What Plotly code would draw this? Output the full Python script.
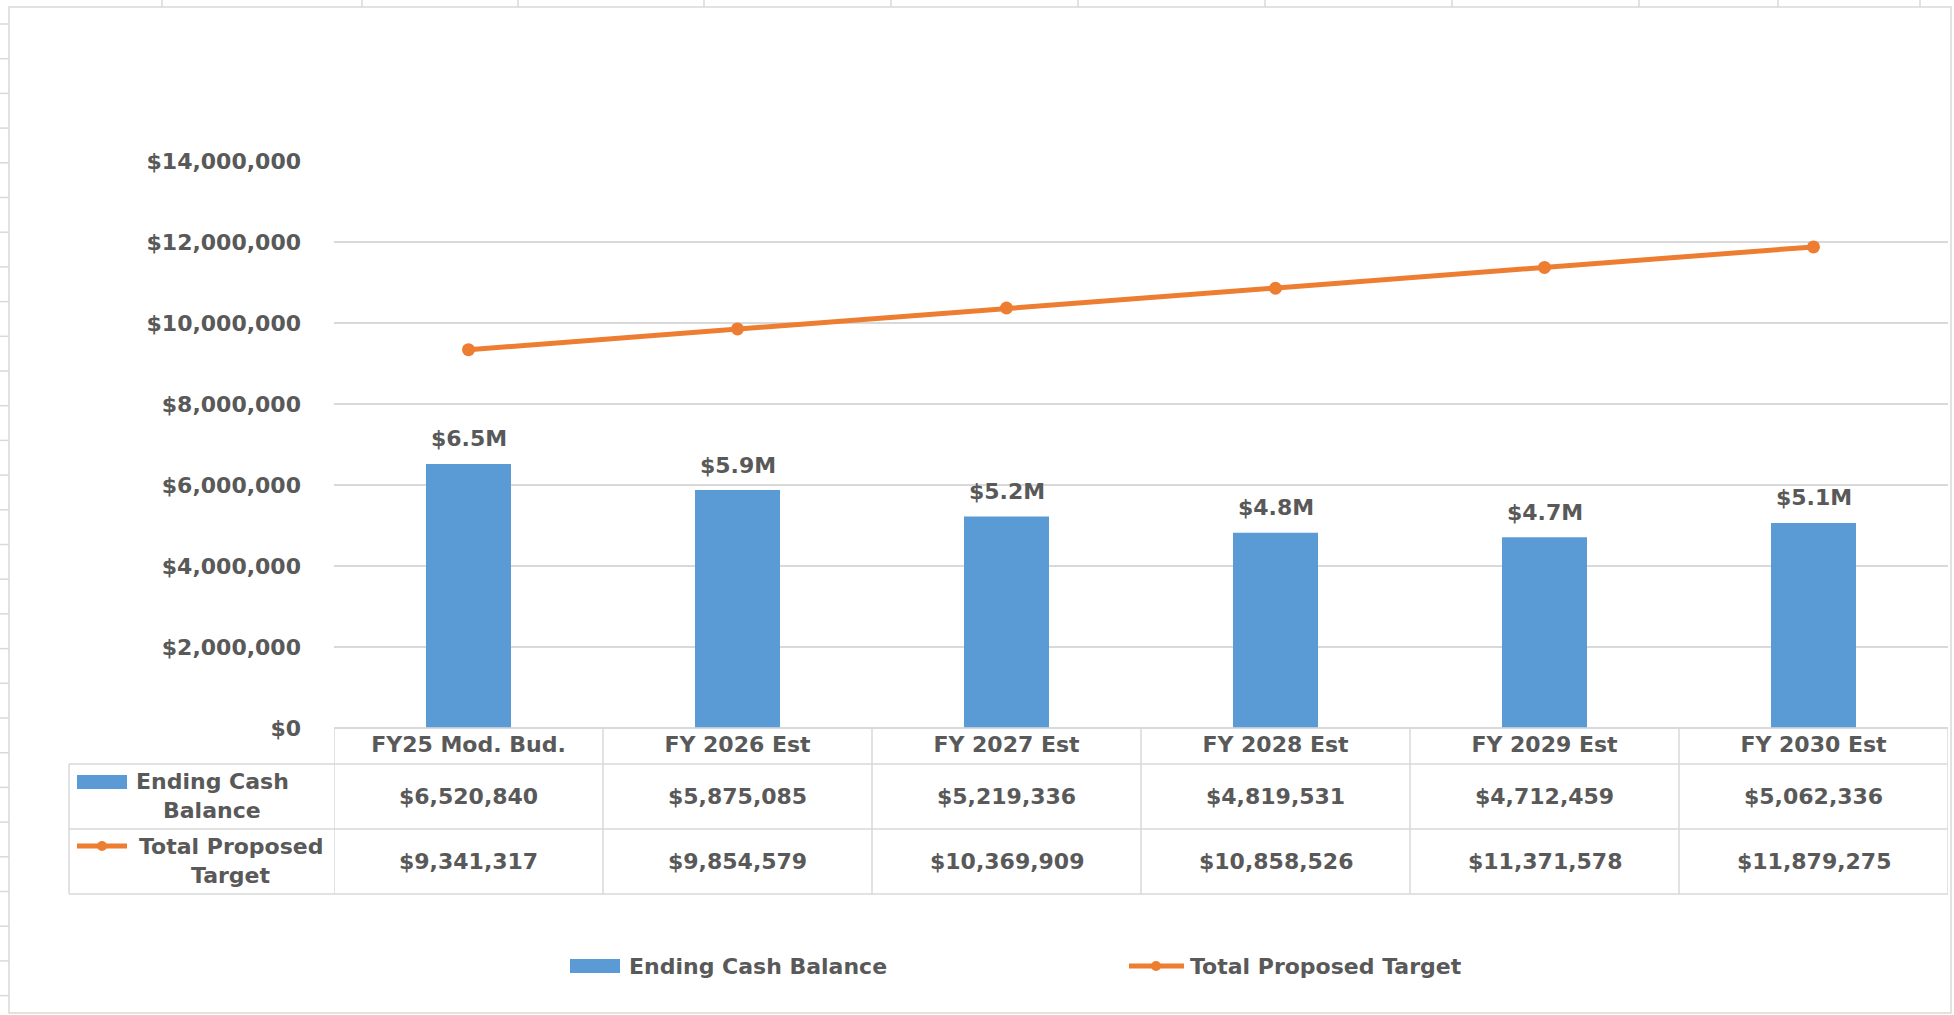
import plotly.graph_objects as go

# ---------------- data ----------------
categories = ["FY25 Mod. Bud.", "FY 2026 Est", "FY 2027 Est", "FY 2028 Est", "FY 2029 Est", "FY 2030 Est"]
ending_cash = [6520840, 5875085, 5219336, 4819531, 4712459, 5062336]
proposed_target = [9341317, 9854579, 10369909, 10858526, 11371578, 11879275]
series_names = ["Ending Cash Balance", "Total Proposed Target"]
table_row_labels = [["Ending Cash", "Balance"], ["Total Proposed", "Target"]]
y_ticks = [0, 2000000, 4000000, 6000000, 8000000, 10000000, 12000000, 14000000]

# ---------------- style ----------------
W, H = 1954, 1015
BLUE = "#5B9BD5"
ORANGE = "#ED7D31"
GRID = "#D9D9D9"
TEXT = "#595959"
FAM = "DejaVu Sans"
FS = 22


def px(x):
    return x / W


def py(y):
    return 1 - y / H


PLOT_L, PLOT_R = 334, 1948
PLOT_T, PLOT_B = 161, 728
ROW1_T, ROW2_T, TABLE_B = 764, 829, 894
LABEL_L = 69

font = dict(family=FAM, size=FS, color=TEXT, weight="bold")

fig = go.Figure()
fig.add_trace(go.Bar(
    x=categories, y=ending_cash, name=series_names[0],
    marker=dict(color=BLUE, line=dict(width=0)),
    showlegend=False, hoverinfo="skip",
))
fig.add_trace(go.Scatter(
    x=categories, y=proposed_target, name=series_names[1],
    mode="lines+markers",
    line=dict(color=ORANGE, width=5),
    marker=dict(color=ORANGE, size=13),
    showlegend=False, hoverinfo="skip", cliponaxis=False,
))

annotations = []
shapes = []


def ann(x, y, text, xref="paper", yref="paper", xanchor="center", **kw):
    d = dict(x=x, y=y, xref=xref, yref=yref, text=text, showarrow=False,
             xanchor=xanchor, yanchor="middle", font=font)
    d.update(kw)
    annotations.append(d)


# data labels above bars
for i, v in enumerate(ending_cash):
    ann(i, v, f"${v / 1e6:.1f}M", xref="x", yref="y", yshift=25)

# ---- data table ----
line_style = dict(color=GRID, width=1.5)
shapes.append(dict(type="line", xref="paper", yref="paper",
                   x0=px(PLOT_L), x1=px(PLOT_R), y0=py(PLOT_B), y1=py(PLOT_B), line=line_style))
for yy in (ROW1_T, ROW2_T, TABLE_B):
    shapes.append(dict(type="line", xref="paper", yref="paper",
                       x0=px(LABEL_L), x1=px(PLOT_R), y0=py(yy), y1=py(yy), line=line_style))
for i in range(len(categories) + 1):
    shapes.append(dict(type="line", xref="x", yref="paper",
                       x0=i - 0.5, x1=i - 0.5, y0=py(PLOT_B), y1=py(TABLE_B), line=line_style))
shapes.append(dict(type="line", xref="paper", yref="paper",
                   x0=px(LABEL_L), x1=px(LABEL_L), y0=py(ROW1_T), y1=py(TABLE_B), line=line_style))

rows = [ending_cash, proposed_target]
row_centers = [(ROW1_T + ROW2_T) / 2, (ROW2_T + TABLE_B) / 2]
for r, vals in enumerate(rows):
    for i, v in enumerate(vals):
        ann(i, py(row_centers[r]), f"${v:,.0f}", xref="x")

label_cx = [212, 231]
for r, lines in enumerate(table_row_labels):
    top = ROW1_T if r == 0 else ROW2_T
    for k, t in enumerate(lines):
        ann(px(label_cx[r]), py(top + 17 + 29 * k), t)
# key row 1: blue box
shapes.append(dict(type="rect", xref="paper", yref="paper",
                   x0=px(77), x1=px(127), y0=py(775), y1=py(789),
                   fillcolor=BLUE, line=dict(width=0)))
# key row 2: orange line + marker
shapes.append(dict(type="line", xref="paper", yref="paper",
                   x0=px(77), x1=px(127), y0=py(846), y1=py(846),
                   line=dict(color=ORANGE, width=5)))
shapes.append(dict(type="circle", xref="paper", yref="paper",
                   x0=px(97), x1=px(107), y0=py(841), y1=py(851),
                   fillcolor=ORANGE, line=dict(width=0)))

# ---- bottom legend ----
LEG_Y = 966
shapes.append(dict(type="rect", xref="paper", yref="paper",
                   x0=px(570), x1=px(620), y0=py(LEG_Y - 7), y1=py(LEG_Y + 7),
                   fillcolor=BLUE, line=dict(width=0)))
ann(px(627), py(LEG_Y), series_names[0], xanchor="left")
shapes.append(dict(type="line", xref="paper", yref="paper",
                   x0=px(1129), x1=px(1184), y0=py(LEG_Y), y1=py(LEG_Y),
                   line=dict(color=ORANGE, width=5)))
shapes.append(dict(type="circle", xref="paper", yref="paper",
                   x0=px(1151), x1=px(1161), y0=py(LEG_Y - 5), y1=py(LEG_Y + 5),
                   fillcolor=ORANGE, line=dict(width=0)))
ann(px(1188), py(LEG_Y), series_names[1], xanchor="left")

# ---- chart border + spreadsheet cell ticks ----
shapes.append(dict(type="rect", xref="paper", yref="paper",
                   x0=px(9), x1=px(1951), y0=py(7), y1=py(1013),
                   line=dict(color=GRID, width=1.5), layer="below"))
for tx in (162, 362, 518, 704, 891, 1078, 1265, 1452, 1639, 1778, 1920):
    shapes.append(dict(type="line", xref="paper", yref="paper",
                       x0=px(tx), x1=px(tx), y0=py(0), y1=py(7),
                       line=dict(color=GRID, width=1.5)))
ty = 24.0
while ty < 1010:
    shapes.append(dict(type="line", xref="paper", yref="paper",
                       x0=px(0), x1=px(9), y0=py(ty), y1=py(ty),
                       line=dict(color=GRID, width=1.5)))
    ty += 34.7

fig.update_layout(
    width=W, height=H,
    margin=dict(l=0, r=0, t=0, b=0, autoexpand=False),
    paper_bgcolor="white", plot_bgcolor="white",
    bargap=0.684,
    font=font,
    annotations=annotations,
    shapes=shapes,
    xaxis=dict(
        type="category", range=[-0.5, len(categories) - 0.5],
        domain=[px(PLOT_L), px(PLOT_R)], automargin=False,
        showgrid=False, showline=False, zeroline=False, ticks="",
        tickfont=font, ticklabelstandoff=1,
    ),
    yaxis=dict(
        range=[0, 14000000], domain=[py(PLOT_B), py(PLOT_T)], automargin=False,
        tickvals=y_ticks, tickformat="$,.0f",
        showgrid=True, gridcolor=GRID, gridwidth=1.5,
        zeroline=True, zerolinecolor=GRID, zerolinewidth=1.5,
        showline=False, ticks="", tickfont=font, ticklabelstandoff=32,
    ),
)

fig.write_html("out.html")
